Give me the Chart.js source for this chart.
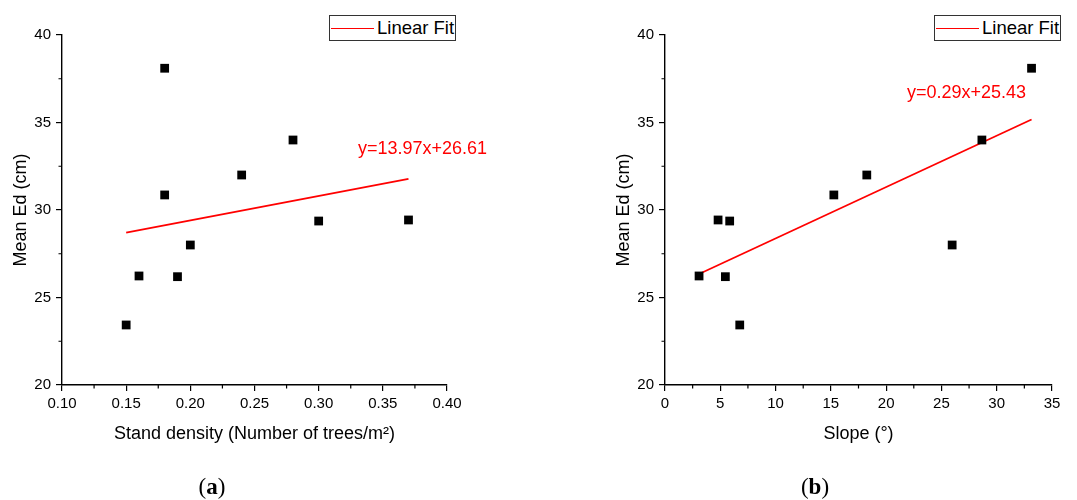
<!DOCTYPE html>
<html>
<head>
<meta charset="utf-8">
<script src="https://cdn.jsdelivr.net/npm/chart.js@4.4.0/dist/chart.umd.min.js"></script>
<style>
  body { margin: 0; background: #fff; font-family: "Liberation Sans", Arial, sans-serif; }
  #wrap { position: relative; width: 1077px; height: 500px; overflow: hidden; }
  .box { position: absolute; top: 0; height: 500px; }
  .legend { position: absolute; border: 1px solid #333; background: #fff; height: 26px; width: 127px; box-sizing: border-box; }
  .legend .ln { position: absolute; left: 1px; top: 11.5px; width: 43px; height: 0; border-top: 1.8px solid #ff0000; }
  .legend .tx { position: absolute; left: 47px; top: 1px; font-size: 18.5px; color: #000; white-space: nowrap; }
  .eq { position: absolute; color: #ff0000; font-size: 18px; white-space: nowrap; }
  .cap { position: absolute; font-family: "Liberation Serif", "DejaVu Serif", serif; font-size: 23px; color: #000; transform: translateX(-50%); }
  .cap b { font-weight: bold; }
</style>
</head>
<body>
<div id="wrap">
  <div class="box" style="left:0;width:540px;"><canvas id="chartA"></canvas></div>
  <div class="box" style="left:540px;width:537px;"><canvas id="chartB"></canvas></div>

  <div class="legend" style="left:329px;top:15px;"><div class="ln"></div><div class="tx">Linear Fit</div></div>
  <div class="legend" style="left:934px;top:15px;"><div class="ln"></div><div class="tx">Linear Fit</div></div>

  <div class="eq" style="left:358px;top:138px;">y=13.97x+26.61</div>
  <div class="eq" style="left:907px;top:82px;">y=0.29x+25.43</div>

  <div class="cap" style="left:212px;top:474px;">(<b>a</b>)</div>
  <div class="cap" style="left:815px;top:474px;">(<b>b</b>)</div>
</div>
<script>
// Mean Ed of each site (cm)
const meanEd = [38.1, 34.0, 32.0, 30.86, 29.43, 29.37, 28.0, 26.23, 26.19, 23.43];
// Stand density (trees/m2) of the same sites
const density = [0.18, 0.28, 0.24, 0.18, 0.37, 0.30, 0.20, 0.16, 0.19, 0.15];
// Slope (degrees) of the same sites
const slope = [33.15, 28.66, 18.25, 15.27, 4.8, 5.85, 25.97, 3.08, 5.46, 6.76];

// Linear fit end points
const fitDensityX = [0.15, 0.37];
const fitDensityY = [28.71, 31.78];
const fitSlopeX = [3.08, 33.15];
const fitSlopeY = [26.34, 35.17];

const yTicks = [20, 25, 30, 35, 40];
const densityTicks = [0.10, 0.15, 0.20, 0.25, 0.30, 0.35, 0.40];
const slopeTicks = [0, 5, 10, 15, 20, 25, 30, 35];

Chart.defaults.font.family = '"Liberation Sans", Arial, sans-serif';
Chart.defaults.color = '#000';

const toPoints = (xs, ys) => xs.map((x, i) => ({ x: x, y: ys[i] }));

// minor ticks halfway between the major ones
const minorTicks = {
  id: 'minorTicks',
  afterDraw(chart) {
    const ctx = chart.ctx;
    const xs = chart.scales.x, ys = chart.scales.y;
    ctx.save();
    ctx.strokeStyle = '#000';
    ctx.lineWidth = 1.2;
    ctx.beginPath();
    const xt = xs.ticks.map(t => t.value);
    for (let i = 0; i < xt.length - 1; i++) {
      const px = xs.getPixelForValue((xt[i] + xt[i + 1]) / 2);
      ctx.moveTo(px, xs.top);
      ctx.lineTo(px, xs.top + 3.5);
    }
    const yt = ys.ticks.map(t => t.value);
    for (let i = 0; i < yt.length - 1; i++) {
      const py = ys.getPixelForValue((yt[i] + yt[i + 1]) / 2);
      ctx.moveTo(ys.right, py);
      ctx.lineTo(ys.right - 3.5, py);
    }
    ctx.stroke();
    ctx.restore();
  }
};

function makeChart(id, xs, fitX, fitY, xTicks, xTitle, pad, yWidth, yTitlePad, fmt) {
  const canvas = document.getElementById(id);
  canvas.width = canvas.parentNode.clientWidth;
  canvas.height = 500;
  return new Chart(canvas, {
    type: 'scatter',
    data: {
      datasets: [
        {
          label: 'Linear Fit',
          data: toPoints(fitX, fitY),
          showLine: true,
          borderColor: '#ff0000',
          borderWidth: 1.8,
          pointRadius: 0,
          order: 2
        },
        {
          label: 'Mean Ed',
          data: toPoints(xs, meanEd),
          pointStyle: 'rect',
          pointRadius: 6.2,
          backgroundColor: '#000',
          borderColor: '#000',
          borderWidth: 0,
          order: 1
        }
      ]
    },
    options: {
      responsive: false,
      animation: false,
      layout: { padding: pad },
      plugins: { legend: { display: false }, tooltip: { enabled: false } },
      scales: {
        x: {
          type: 'linear',
          min: xTicks[0],
          max: xTicks[xTicks.length - 1],
          afterBuildTicks: s => { s.ticks = xTicks.map(v => ({ value: v })); },
          afterFit: s => { s.height = 60; },
          ticks: { font: { size: 15 }, padding: 4, maxRotation: 0, callback: fmt },
          grid: { drawOnChartArea: false, tickLength: 6, color: '#000', lineWidth: 1.2 },
          border: { display: true, color: '#000', width: 1.4 },
          title: { display: true, text: xTitle, font: { size: 18 }, padding: { top: 0, bottom: 0 } }
        },
        y: {
          type: 'linear',
          min: 20,
          max: 40,
          afterBuildTicks: s => { s.ticks = yTicks.map(v => ({ value: v })); },
          afterFit: s => { s.width = yWidth; },
          ticks: { font: { size: 15 }, padding: 5 },
          grid: { drawOnChartArea: false, tickLength: 6, color: '#000', lineWidth: 1.2 },
          border: { display: true, color: '#000', width: 1.4 },
          title: { display: true, text: 'Mean Ed (cm)', font: { size: 18 }, padding: { top: yTitlePad, bottom: 0 } }
        }
      }
    },
    plugins: [minorTicks]
  });
}

makeChart('chartA', density, fitDensityX, fitDensityY, densityTicks,
  'Stand density (Number of trees/m\u00B2)',
  { left: 0, right: 93, top: 35, bottom: 55 }, 62, 10, v => v.toFixed(2));

makeChart('chartB', slope, fitSlopeX, fitSlopeY, slopeTicks,
  'Slope (\u00B0)',
  { left: 0, right: 25, top: 35, bottom: 55 }, 125, 73, v => String(v));
</script>
</body>
</html>
